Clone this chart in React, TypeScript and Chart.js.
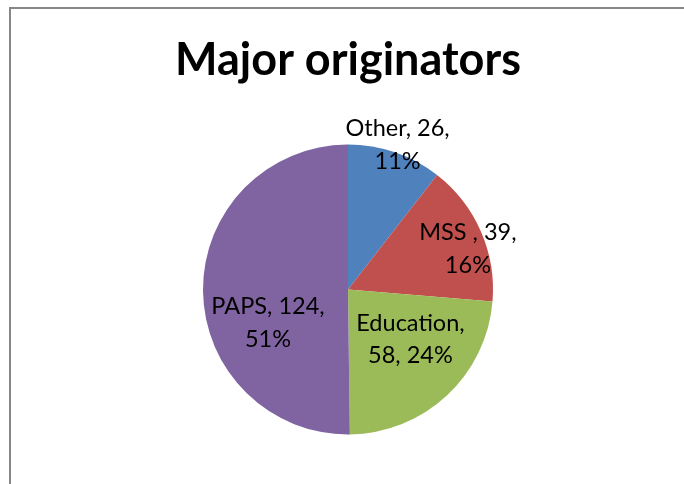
import React, { useEffect, useRef } from "react";
import { Chart, registerables } from "chart.js";

Chart.register(...registerables);

const categories = ["Other", "MSS ", "Education", "PAPS"];
const values = [26, 39, 58, 124];
const percents = [11, 16, 24, 51];
const colors = ["#4F81BD", "#C0504D", "#9BBB59", "#8064A2"];
// how many label parts go on the first line
const firstLineParts = [2, 2, 1, 2];
// label placement: angle offset (deg) from slice mid, radius fraction
const labelAngleOffset = [0, 5, -8.3, -22.3];
const labelRadiusFrac = [1.053, 0.873, 0.552, 0.598];

const LABEL_FONT = "23.5px Lato";
const LABEL_LINE = 32.5;

const framePlugin = {
  id: "frame",
  beforeDraw(chart: any) {
    const ctx = chart.ctx;
    ctx.save();
    ctx.fillStyle = "#ffffff";
    ctx.fillRect(0, 0, chart.width, chart.height);
    ctx.fillStyle = "#878787";
    ctx.fillRect(9, 7, 2, chart.height);
    ctx.fillRect(9, 7, chart.width, 2);
    ctx.restore();
  },
};

const labelPlugin = {
  id: "sliceLabels",
  afterDatasetsDraw(chart: any) {
    const ctx = chart.ctx;
    const meta = chart.getDatasetMeta(0);
    ctx.save();
    ctx.font = LABEL_FONT;
    ctx.fillStyle = "#000000";
    ctx.textAlign = "center";
    ctx.textBaseline = "middle";
    meta.data.forEach((arc: any, i: number) => {
      const p = arc.getProps(["x", "y", "startAngle", "endAngle", "outerRadius"], true);
      const mid = (p.startAngle + p.endAngle) / 2 + (labelAngleOffset[i] * Math.PI) / 180;
      const r = p.outerRadius * labelRadiusFrac[i];
      const cx = p.x + Math.cos(mid) * r;
      const cy = p.y + Math.sin(mid) * r;
      const parts = [categories[i], String(values[i]), percents[i] + "%"];
      const n = firstLineParts[i];
      const lines = [
        parts.slice(0, n).join(", ") + ",",
        parts.slice(n).join(", "),
      ];
      const startY = cy - ((lines.length - 1) * LABEL_LINE) / 2;
      lines.forEach((ln, k) => ctx.fillText(ln, cx, startY + k * LABEL_LINE));
    });
    ctx.restore();
  },
};

export default function App() {
  const ref = useRef<HTMLCanvasElement | null>(null);
  useEffect(() => {
    if (!ref.current) return;
    const chart = new Chart(ref.current, {
      type: "pie",
      data: {
        labels: categories,
        datasets: [
          {
            data: values,
            backgroundColor: colors,
            borderWidth: 0,
          },
        ],
      },
      options: {
        responsive: false,
        animation: false,
        layout: { padding: { left: 12, right: 0, top: 0, bottom: 49.5 } },
        plugins: {
          legend: { display: false },
          tooltip: { enabled: false },
          title: {
            display: true,
            text: "Major originators",
            color: "#000000",
            font: { family: "Lato", size: 45, weight: "bold", lineHeight: 1.2 },
            padding: { top: 33.5, bottom: 57.0 },
          },
        },
      },
      plugins: [framePlugin, labelPlugin],
    });
    return () => chart.destroy();
  }, []);
  return (
    <div style={{ position: "fixed", left: 0, top: 0, width: 684, height: 484, background: "#fff" }}>
      <canvas ref={ref} width={684} height={484} style={{ display: "block" }} />
    </div>
  );
}
